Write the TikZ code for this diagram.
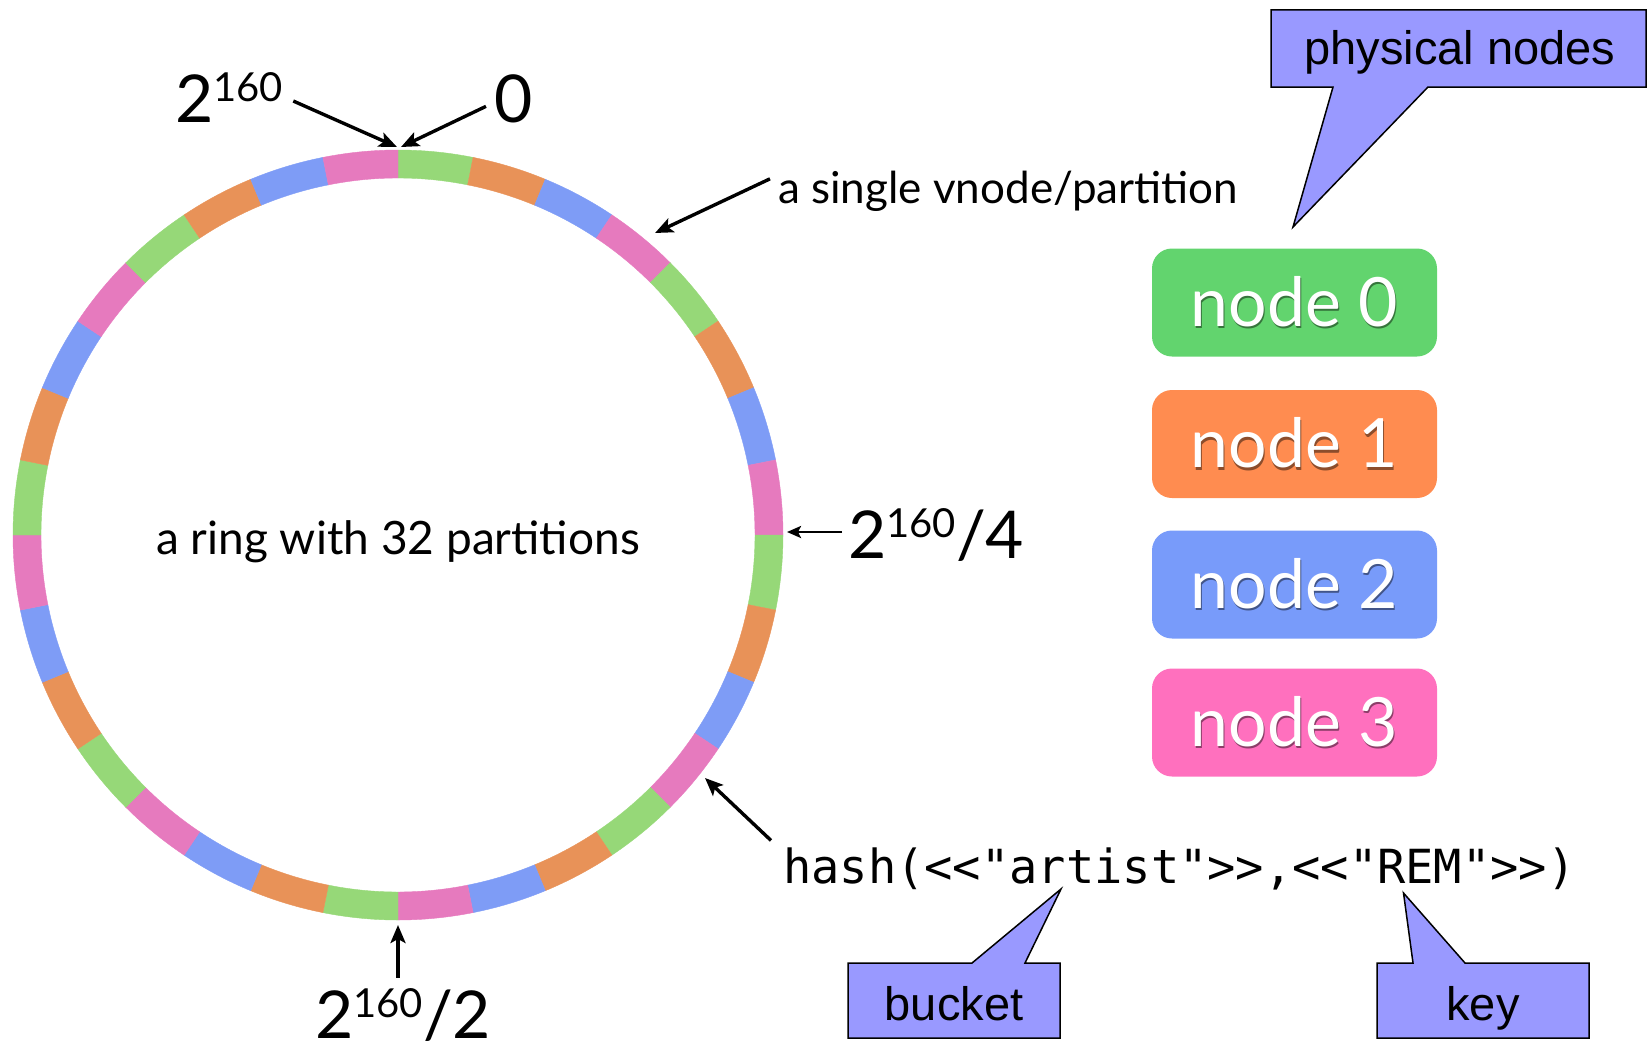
\documentclass[tikz,border=0pt]{standalone}
\usepackage{fontspec}
\usetikzlibrary{arrows.meta}
\newfontfamily\gill{Lato}
\newfontfamily\arialf{Liberation Sans}
\newfontfamily\monof{DejaVu Sans Mono}

% ring segment colours (green, orange, blue, pink)
\definecolor{rc0}{HTML}{96D878}
\definecolor{rc1}{HTML}{E89258}
\definecolor{rc2}{HTML}{7E9CF6}
\definecolor{rc3}{HTML}{E67ABE}
% physical node box colours
\definecolor{nd0}{HTML}{62D46E}
\definecolor{nd1}{HTML}{FF8C50}
\definecolor{nd2}{HTML}{789BFA}
\definecolor{nd3}{HTML}{FF70BE}
\definecolor{callfill}{HTML}{9999FF}

% power-of-two labels: 2^160 with a raised exponent
\newcommand\twopow[1]{{\gill\fontsize{66}{70}\selectfont 2\raisebox{21pt}{\fontsize{40}{40}\selectfont 160}#1}}
% white label with a soft drop shadow
\newcommand\shtext[2]{\leavevmode\rlap{\kern1pt\raisebox{-2.5pt}{\textcolor{#1}{#2}}}#2}

\tikzset{
  arr/.style={-{Stealth[length=18pt,width=15pt,inset=4pt]}, line width=3.4pt},
  arrthin/.style={-{Stealth[length=14pt,width=12pt,inset=3pt]}, line width=2.6pt},
  pbox/.style={rounded corners=20pt, minimum width=285pt, minimum height=108pt,
    inner sep=0pt, text=white, font=\gill\fontsize{68}{70}\selectfont},
  call/.style={fill=callfill, draw=black, line width=1.5pt, line join=miter},
  calltext/.style={inner sep=0pt, anchor=base, font=\arialf\fontsize{47}{50}\selectfont},
  plain/.style={inner sep=0pt, anchor=base west},
}

\begin{document}
\begin{tikzpicture}[x=1pt,y=-1pt]
\useasboundingbox (0,0) rectangle (1648,1049);

% ---- the ring of 32 partitions ----
\coordinate (ringc) at (398,535);
\foreach \k in {0,...,31} {
  \pgfmathsetmacro\a{-90+11.25*\k}
  \pgfmathsetmacro\b{\a+11.25}
  \pgfmathtruncatemacro\c{mod(\k,4)}
  \filldraw[rc\c, line width=0.4pt]
    ([shift={(\a:385)}]ringc) arc[start angle=\a, end angle=\b, radius=385]
    -- ([shift={(\b:357)}]ringc) arc[start angle=\b, end angle=\a, radius=357] -- cycle;
}
\coordinate (ptop) at (399,147);
\coordinate (pright) at (787,532);
\coordinate (pbottom) at (398,925);
\coordinate (pvnode) at (655,233);
\coordinate (phash) at (705,778);

\node[inner sep=0pt, anchor=base, font=\gill\fontsize{46}{50}\selectfont] (ringlbl) at (398,554) {a ring with 32 partitions};

% ---- position labels ----
\node[plain] (lmax) at (175,122) {\twopow{}};
\node[plain] (lzero) at (494,122) {{\gill\fontsize{66}{70}\selectfont 0}};
\node[plain] (lquarter) at (848,558) {\twopow{/4}};
\node[plain] (lhalf) at (315,1038) {\twopow{/2}};
\node[plain, font=\gill\fontsize{44}{48}\selectfont] (lvnode) at (778,203) {a single vnode/partition};

\draw[arr] ([shift={(10,4)}]lmax.east) -- ([xshift=-2pt]ptop);
\draw[arr] ([shift={(-8,8)}]lzero.west) -- ([xshift=2pt]ptop);
\draw[arrthin] ([xshift=-6pt]lquarter.west |- pright) -- (pright);
\draw[arr] ([yshift=10pt]lhalf.north -| pbottom) -- (pbottom);
\draw[arr] ([shift={(-8,-12)}]lvnode.west) -- (pvnode);

% ---- physical nodes ----
\node[pbox, fill=nd0] (n0) at (1294.5,302.5) {\shtext{nd0!55!black}{node 0}};
\node[pbox, fill=nd1] (n1) at (1294.5,444) {\shtext{nd1!55!black}{node 1}};
\node[pbox, fill=nd2] (n2) at (1294.5,584.5) {\shtext{nd2!55!black}{node 2}};
\node[pbox, fill=nd3] (n3) at (1294.5,722.5) {\shtext{nd3!55!black}{node 3}};

% ---- hashed key ----
\node[plain, font=\monof\fontsize{47}{50}\selectfont] (hash) at (783,883) {hash(<{}<"artist">{}>,<{}<"REM">{}>)};
\draw[arr] ([shift={(-12,-28)}]hash.west) -- (phash);

% ---- callouts ----
\draw[call] (1271,10) -- (1646,10) -- (1646,87) -- (1428,87) -- (1293,227) -- (1333,87) -- (1271,87) -- cycle;
\node[calltext] (cphys) at (1460,65) {physical nodes};

\draw[call] (848,963) -- (972,963) -- (1061,889) -- (1025,963) -- (1060,963) -- (1060,1038) -- (848,1038) -- cycle;
\node[calltext] (cbucket) at (954,1020) {bucket};

\draw[call] (1377,963) -- (1413,963) -- (1403.5,893) -- (1465,963) -- (1589,963) -- (1589,1038) -- (1377,1038) -- cycle;
\node[calltext] (ckey) at (1483,1020) {key};

\end{tikzpicture}
\end{document}
